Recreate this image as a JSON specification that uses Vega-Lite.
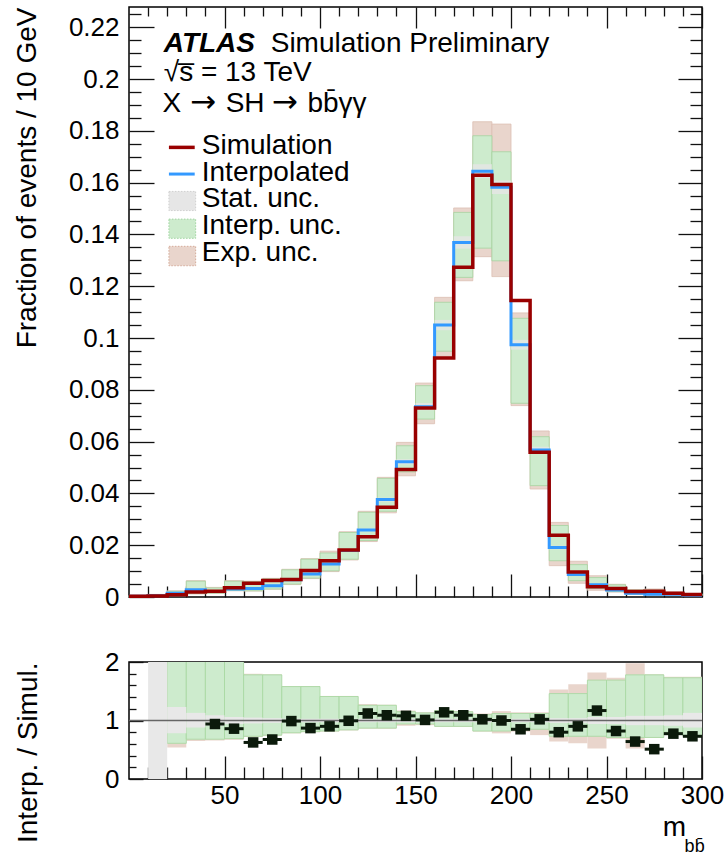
{
  "$schema": "https://vega.github.io/schema/vega-lite/v6.json",
  "background": "white",
  "padding": {"left": 12, "top": 5, "right": 5, "bottom": 5},
  "config": {
    "font": "Liberation Sans",
    "view": {"stroke": "black", "strokeWidth": 1.5},
    "axis": {"grid": false, "domain": false, "tickColor": "#111", "tickWidth": 1.3, "labelFont": "Liberation Sans", "labelFontSize": 26, "labelColor": "black", "labelFlush": false, "labelOverlap": false, "titleFont": "Liberation Sans", "titleFontSize": 28, "titleFontWeight": "normal", "titleColor": "black", "zindex": 1}
  },
  "datasets": {
    "h": [
      {"lo":0,"hi":10,"sim":0.0003,"interp":0.0003,"i_lo":0.0001,"i_hi":0.0005,"e_lo":0.0001,"e_hi":0.0006,"s_lo":0.0002,"s_hi":0.0004},
      {"lo":10,"hi":20,"sim":0.0004,"interp":0.0005,"i_lo":0.0002,"i_hi":0.0009,"e_lo":0.0002,"e_hi":0.0010,"s_lo":0.0004,"s_hi":0.0006},
      {"lo":20,"hi":30,"sim":0.0009,"interp":0.0014,"i_lo":0.0006,"i_hi":0.0022,"e_lo":0.0005,"e_hi":0.0024,"s_lo":0.0012,"s_hi":0.0016},
      {"lo":30,"hi":40,"sim":0.0019,"interp":0.0028,"i_lo":0.0013,"i_hi":0.0061,"e_lo":0.0012,"e_hi":0.0063,"s_lo":0.0025,"s_hi":0.0031},
      {"lo":40,"hi":50,"sim":0.0022,"interp":0.0021,"i_lo":0.0015,"i_hi":0.0035,"e_lo":0.0014,"e_hi":0.0037,"s_lo":0.0019,"s_hi":0.0023},
      {"lo":50,"hi":60,"sim":0.0036,"interp":0.0031,"i_lo":0.0025,"i_hi":0.0061,"e_lo":0.0024,"e_hi":0.0063,"s_lo":0.0029,"s_hi":0.0033},
      {"lo":60,"hi":70,"sim":0.0053,"interp":0.0033,"i_lo":0.0024,"i_hi":0.0059,"e_lo":0.0023,"e_hi":0.0061,"s_lo":0.0031,"s_hi":0.0035},
      {"lo":70,"hi":80,"sim":0.0064,"interp":0.0043,"i_lo":0.0031,"i_hi":0.0070,"e_lo":0.0030,"e_hi":0.0072,"s_lo":0.0041,"s_hi":0.0045},
      {"lo":80,"hi":90,"sim":0.0068,"interp":0.0067,"i_lo":0.0050,"i_hi":0.0105,"e_lo":0.0048,"e_hi":0.0107,"s_lo":0.0065,"s_hi":0.0069},
      {"lo":90,"hi":100,"sim":0.0102,"interp":0.0089,"i_lo":0.0073,"i_hi":0.0146,"e_lo":0.0071,"e_hi":0.0148,"s_lo":0.0087,"s_hi":0.0091},
      {"lo":100,"hi":110,"sim":0.0140,"interp":0.0127,"i_lo":0.0101,"i_hi":0.0170,"e_lo":0.0098,"e_hi":0.0177,"s_lo":0.0124,"s_hi":0.0130},
      {"lo":110,"hi":120,"sim":0.0181,"interp":0.0180,"i_lo":0.0146,"i_hi":0.0249,"e_lo":0.0143,"e_hi":0.0252,"s_lo":0.0176,"s_hi":0.0184},
      {"lo":120,"hi":130,"sim":0.0233,"interp":0.0259,"i_lo":0.0218,"i_hi":0.0327,"e_lo":0.0214,"e_hi":0.0331,"s_lo":0.0254,"s_hi":0.0264},
      {"lo":130,"hi":140,"sim":0.0347,"interp":0.0376,"i_lo":0.0331,"i_hi":0.0458,"e_lo":0.0325,"e_hi":0.0462,"s_lo":0.0369,"s_hi":0.0383},
      {"lo":140,"hi":150,"sim":0.0492,"interp":0.0522,"i_lo":0.0483,"i_hi":0.0584,"e_lo":0.0468,"e_hi":0.0597,"s_lo":0.0512,"s_hi":0.0532},
      {"lo":150,"hi":160,"sim":0.0730,"interp":0.0735,"i_lo":0.0687,"i_hi":0.0816,"e_lo":0.0669,"e_hi":0.0826,"s_lo":0.0721,"s_hi":0.0749},
      {"lo":160,"hi":170,"sim":0.0923,"interp":0.1050,"i_lo":0.0949,"i_hi":0.1138,"e_lo":0.0929,"e_hi":0.1157,"s_lo":0.1030,"s_hi":0.1070},
      {"lo":170,"hi":180,"sim":0.1273,"interp":0.1369,"i_lo":0.1234,"i_hi":0.1485,"e_lo":0.1221,"e_hi":0.1502,"s_lo":0.1345,"s_hi":0.1393},
      {"lo":180,"hi":190,"sim":0.1628,"interp":0.1644,"i_lo":0.1347,"i_hi":0.1781,"e_lo":0.1314,"e_hi":0.1835,"s_lo":0.1617,"s_hi":0.1671},
      {"lo":190,"hi":200,"sim":0.1593,"interp":0.1582,"i_lo":0.1298,"i_hi":0.1719,"e_lo":0.1237,"e_hi":0.1826,"s_lo":0.1556,"s_hi":0.1608},
      {"lo":200,"hi":210,"sim":0.1145,"interp":0.0974,"i_lo":0.0748,"i_hi":0.1076,"e_lo":0.0739,"e_hi":0.1097,"s_lo":0.0955,"s_hi":0.0993},
      {"lo":210,"hi":220,"sim":0.0559,"interp":0.0568,"i_lo":0.0430,"i_hi":0.0619,"e_lo":0.0417,"e_hi":0.0641,"s_lo":0.0556,"s_hi":0.0580},
      {"lo":220,"hi":230,"sim":0.0238,"interp":0.0191,"i_lo":0.0140,"i_hi":0.0276,"e_lo":0.0121,"e_hi":0.0288,"s_lo":0.0184,"s_hi":0.0198},
      {"lo":230,"hi":240,"sim":0.0097,"interp":0.0087,"i_lo":0.0063,"i_hi":0.0125,"e_lo":0.0053,"e_hi":0.0138,"s_lo":0.0083,"s_hi":0.0091},
      {"lo":240,"hi":250,"sim":0.0040,"interp":0.0047,"i_lo":0.0033,"i_hi":0.0075,"e_lo":0.0026,"e_hi":0.0082,"s_lo":0.0044,"s_hi":0.0050},
      {"lo":250,"hi":260,"sim":0.0033,"interp":0.0027,"i_lo":0.0021,"i_hi":0.0047,"e_lo":0.0019,"e_hi":0.0049,"s_lo":0.0025,"s_hi":0.0029},
      {"lo":260,"hi":270,"sim":0.0021,"interp":0.0014,"i_lo":0.0012,"i_hi":0.0027,"e_lo":0.0010,"e_hi":0.0028,"s_lo":0.0013,"s_hi":0.0015},
      {"lo":270,"hi":280,"sim":0.0022,"interp":0.0011,"i_lo":0.0009,"i_hi":0.0027,"e_lo":0.0008,"e_hi":0.0031,"s_lo":0.0010,"s_hi":0.0012},
      {"lo":280,"hi":290,"sim":0.0014,"interp":0.0011,"i_lo":0.0009,"i_hi":0.0018,"e_lo":0.0008,"e_hi":0.0019,"s_lo":0.0010,"s_hi":0.0012},
      {"lo":290,"hi":300,"sim":0.0010,"interp":0.0007,"i_lo":0.0006,"i_hi":0.0012,"e_lo":0.0005,"e_hi":0.0013,"s_lo":0.0006,"s_hi":0.0008}
    ],
    "r": [
      {"lo":10,"hi":20,"m":15,"ratio":null,"i_lo":null,"i_hi":null,"e_lo":null,"e_hi":null,"s_lo":-1,"s_hi":3},
      {"lo":20,"hi":30,"m":25,"ratio":null,"i_lo":0.61,"i_hi":3,"e_lo":0.54,"e_hi":3,"s_lo":0.78,"s_hi":1.23},
      {"lo":30,"hi":40,"m":35,"ratio":null,"i_lo":0.68,"i_hi":3,"e_lo":0.65,"e_hi":3,"s_lo":0.88,"s_hi":1.13},
      {"lo":40,"hi":50,"m":45,"ratio":0.94,"i_lo":0.68,"i_hi":3,"e_lo":0.66,"e_hi":3,"s_lo":0.91,"s_hi":1.09},
      {"lo":50,"hi":60,"m":55,"ratio":0.86,"i_lo":0.69,"i_hi":3,"e_lo":0.67,"e_hi":3,"s_lo":0.94,"s_hi":1.06},
      {"lo":60,"hi":70,"m":65,"ratio":0.625,"i_lo":0.73,"i_hi":1.78,"e_lo":0.72,"e_hi":1.80,"s_lo":0.95,"s_hi":1.05},
      {"lo":70,"hi":80,"m":75,"ratio":0.675,"i_lo":0.75,"i_hi":1.78,"e_lo":0.74,"e_hi":1.79,"s_lo":0.96,"s_hi":1.04},
      {"lo":80,"hi":90,"m":85,"ratio":0.99,"i_lo":0.79,"i_hi":1.58,"e_lo":0.78,"e_hi":1.59,"s_lo":0.97,"s_hi":1.03},
      {"lo":90,"hi":100,"m":95,"ratio":0.87,"i_lo":0.81,"i_hi":1.58,"e_lo":0.80,"e_hi":1.59,"s_lo":0.97,"s_hi":1.03},
      {"lo":100,"hi":110,"m":105,"ratio":0.90,"i_lo":0.82,"i_hi":1.41,"e_lo":0.81,"e_hi":1.42,"s_lo":0.97,"s_hi":1.03},
      {"lo":110,"hi":120,"m":115,"ratio":0.995,"i_lo":0.84,"i_hi":1.41,"e_lo":0.83,"e_hi":1.42,"s_lo":0.97,"s_hi":1.03},
      {"lo":120,"hi":130,"m":125,"ratio":1.12,"i_lo":0.87,"i_hi":1.26,"e_lo":0.86,"e_hi":1.28,"s_lo":0.97,"s_hi":1.03},
      {"lo":130,"hi":140,"m":135,"ratio":1.09,"i_lo":0.87,"i_hi":1.26,"e_lo":0.86,"e_hi":1.27,"s_lo":0.97,"s_hi":1.03},
      {"lo":140,"hi":150,"m":145,"ratio":1.08,"i_lo":0.94,"i_hi":1.15,"e_lo":0.91,"e_hi":1.17,"s_lo":0.97,"s_hi":1.03},
      {"lo":150,"hi":160,"m":155,"ratio":1.01,"i_lo":0.94,"i_hi":1.13,"e_lo":0.92,"e_hi":1.14,"s_lo":0.97,"s_hi":1.03},
      {"lo":160,"hi":170,"m":165,"ratio":1.14,"i_lo":0.90,"i_hi":1.17,"e_lo":0.89,"e_hi":1.18,"s_lo":0.97,"s_hi":1.03},
      {"lo":170,"hi":180,"m":175,"ratio":1.09,"i_lo":0.90,"i_hi":1.15,"e_lo":0.89,"e_hi":1.16,"s_lo":0.97,"s_hi":1.03},
      {"lo":180,"hi":190,"m":185,"ratio":1.02,"i_lo":0.82,"i_hi":1.10,"e_lo":0.81,"e_hi":1.12,"s_lo":0.97,"s_hi":1.03},
      {"lo":190,"hi":200,"m":195,"ratio":1.00,"i_lo":0.82,"i_hi":1.12,"e_lo":0.78,"e_hi":1.16,"s_lo":0.97,"s_hi":1.03},
      {"lo":200,"hi":210,"m":205,"ratio":0.85,"i_lo":0.84,"i_hi":1.12,"e_lo":0.81,"e_hi":1.14,"s_lo":0.97,"s_hi":1.03},
      {"lo":210,"hi":220,"m":215,"ratio":1.02,"i_lo":0.85,"i_hi":1.12,"e_lo":0.75,"e_hi":1.14,"s_lo":0.97,"s_hi":1.03},
      {"lo":220,"hi":230,"m":225,"ratio":0.80,"i_lo":0.73,"i_hi":1.46,"e_lo":0.64,"e_hi":1.53,"s_lo":0.96,"s_hi":1.04},
      {"lo":230,"hi":240,"m":235,"ratio":0.90,"i_lo":0.73,"i_hi":1.46,"e_lo":0.61,"e_hi":1.62,"s_lo":0.96,"s_hi":1.04},
      {"lo":240,"hi":250,"m":245,"ratio":1.17,"i_lo":0.73,"i_hi":1.69,"e_lo":0.52,"e_hi":1.82,"s_lo":0.94,"s_hi":1.06},
      {"lo":250,"hi":260,"m":255,"ratio":0.82,"i_lo":0.71,"i_hi":1.69,"e_lo":0.69,"e_hi":1.73,"s_lo":0.94,"s_hi":1.06},
      {"lo":260,"hi":270,"m":265,"ratio":0.64,"i_lo":0.71,"i_hi":1.78,"e_lo":0.52,"e_hi":1.98,"s_lo":0.92,"s_hi":1.08},
      {"lo":270,"hi":280,"m":275,"ratio":0.51,"i_lo":0.71,"i_hi":1.78,"e_lo":0.70,"e_hi":1.79,"s_lo":0.92,"s_hi":1.08},
      {"lo":280,"hi":290,"m":285,"ratio":0.775,"i_lo":0.80,"i_hi":1.73,"e_lo":0.78,"e_hi":1.75,"s_lo":0.91,"s_hi":1.09},
      {"lo":290,"hi":300,"m":295,"ratio":0.73,"i_lo":0.73,"i_hi":1.73,"e_lo":0.72,"e_hi":1.75,"s_lo":0.88,"s_hi":1.13}
    ]
  },
  "spacing": 37,
  "vconcat": [
    {
      "width": 573,
      "height": 590,
      "data": {"name": "h"},
      "resolve": {"axis": {"x": "independent", "y": "independent"}},
      "layer": [
        {
          "mark": {"type": "rect", "fill": "#e9d5cc", "stroke": "#dcbfb3", "strokeWidth": 0.8},
          "encoding": {
            "x": {"field": "lo", "type": "quantitative", "scale": {"domain": [0, 300], "nice": false, "zero": false},
                  "axis": {"orient": "bottom", "values": [50, 100, 150, 200, 250, 300], "tickSize": -23, "labels": false, "title": null}},
            "x2": {"field": "hi"},
            "y": {"field": "e_lo", "type": "quantitative", "scale": {"domain": [0, 0.2278], "nice": false},
                  "axis": {"orient": "left", "values": [0, 0.02, 0.04, 0.06, 0.08, 0.1, 0.12, 0.14, 0.16, 0.18, 0.2, 0.22], "tickSize": -25, "format": ".2~f", "labelPadding": 35, "title": "Fraction of events / 10 GeV", "titleAnchor": "end", "titlePadding": 27}},
            "y2": {"field": "e_hi"}
          }
        },
        {
          "mark": {"type": "rect", "fill": "#cdebcd", "stroke": "#a6d3a0", "strokeWidth": 0.8},
          "encoding": {
            "x": {"field": "lo", "type": "quantitative", "scale": {"domain": [0, 300], "nice": false, "zero": false},
                  "axis": {"orient": "bottom", "values": [10, 20, 30, 40, 60, 70, 80, 90, 110, 120, 130, 140, 160, 170, 180, 190, 210, 220, 230, 240, 260, 270, 280, 290], "tickSize": -11, "labels": false, "title": null}},
            "x2": {"field": "hi"},
            "y": {"field": "i_lo", "type": "quantitative", "scale": {"domain": [0, 0.2278], "nice": false},
                  "axis": {"orient": "left", "values": [0.005, 0.01, 0.015, 0.025, 0.03, 0.035, 0.045, 0.05, 0.055, 0.065, 0.07, 0.075, 0.085, 0.09, 0.095, 0.105, 0.11, 0.115, 0.125, 0.13, 0.135, 0.145, 0.15, 0.155, 0.165, 0.17, 0.175, 0.185, 0.19, 0.195, 0.205, 0.21, 0.215, 0.225], "tickSize": -12, "labels": false, "title": null}},
            "y2": {"field": "i_hi"}
          }
        },
        {
          "mark": {"type": "rect", "fill": "#e6e6e6", "opacity": 0.8},
          "encoding": {
            "x": {"field": "lo", "type": "quantitative", "scale": {"domain": [0, 300], "nice": false, "zero": false},
                  "axis": {"orient": "top", "values": [50, 100, 150, 200, 250, 300], "tickSize": -21, "labels": false, "title": null}},
            "x2": {"field": "hi"},
            "y": {"field": "s_lo", "type": "quantitative", "scale": {"domain": [0, 0.2278], "nice": false},
                  "axis": {"orient": "right", "values": [0.02, 0.04, 0.06, 0.08, 0.1, 0.12, 0.14, 0.16, 0.18, 0.2, 0.22], "tickSize": -24, "labels": false, "title": null}},
            "y2": {"field": "s_hi"}
          }
        },
        {
          "transform": [{"fold": ["lo", "hi"], "as": ["edge", "xe"]}],
          "mark": {"type": "line", "color": "#3399ff", "strokeWidth": 3},
          "encoding": {
            "x": {"field": "xe", "type": "quantitative", "scale": {"domain": [0, 300], "nice": false, "zero": false},
                  "axis": {"orient": "top", "values": [10, 20, 30, 40, 60, 70, 80, 90, 110, 120, 130, 140, 160, 170, 180, 190, 210, 220, 230, 240, 260, 270, 280, 290], "tickSize": -9, "labels": false, "title": null}},
            "y": {"field": "interp", "type": "quantitative", "scale": {"domain": [0, 0.2278], "nice": false},
                  "axis": {"orient": "right", "values": [0.005, 0.01, 0.015, 0.025, 0.03, 0.035, 0.045, 0.05, 0.055, 0.065, 0.07, 0.075, 0.085, 0.09, 0.095, 0.105, 0.11, 0.115, 0.125, 0.13, 0.135, 0.145, 0.15, 0.155, 0.165, 0.17, 0.175, 0.185, 0.19, 0.195, 0.205, 0.21, 0.215, 0.225], "tickSize": -12, "labels": false, "title": null}},
            "order": {"value": null}
          }
        },
        {
          "transform": [{"fold": ["lo", "hi"], "as": ["edge", "xe"]}],
          "mark": {"type": "line", "color": "#990000", "strokeWidth": 3.5},
          "encoding": {
            "x": {"field": "xe", "type": "quantitative", "scale": {"domain": [0, 300], "nice": false, "zero": false}, "axis": null},
            "y": {"field": "sim", "type": "quantitative", "scale": {"domain": [0, 0.2278], "nice": false}, "axis": null},
            "order": {"value": null}
          }
        },
        {
          "data": {"values": [{}]},
          "mark": {"type": "text", "text": "ATLAS", "fontSize": 28, "fontWeight": "bold", "fontStyle": "italic", "align": "left", "baseline": "alphabetic", "color": "black"},
          "encoding": {"x": {"datum": 18.2, "axis": null}, "y": {"datum": 0.2103, "axis": null}}
        },
        {
          "data": {"values": [{}]},
          "mark": {"type": "text", "text": "Simulation Preliminary", "fontSize": 28, "align": "left", "baseline": "alphabetic", "color": "black"},
          "encoding": {"x": {"datum": 74.2, "axis": null}, "y": {"datum": 0.2103, "axis": null}}
        },
        {
          "data": {"values": [{}]},
          "mark": {"type": "text", "text": "√s̅ = 13 TeV", "fontSize": 28, "align": "left", "baseline": "alphabetic", "color": "black"},
          "encoding": {"x": {"datum": 18.2, "axis": null}, "y": {"datum": 0.1993, "axis": null}}
        },
        {
          "data": {"values": [{}]},
          "mark": {"type": "text", "text": "X", "fontSize": 28, "align": "left", "baseline": "alphabetic", "color": "black"},
          "encoding": {"x": {"datum": 17.5, "axis": null}, "y": {"datum": 0.1871, "axis": null}}
        },
        {
          "data": {"values": [{}]},
          "mark": {"type": "text", "text": "→", "font": "DejaVu Sans", "fontSize": 31, "align": "left", "baseline": "alphabetic", "color": "black"},
          "encoding": {"x": {"datum": 32.0, "axis": null}, "y": {"datum": 0.1871, "axis": null}}
        },
        {
          "data": {"values": [{}]},
          "mark": {"type": "text", "text": "SH", "fontSize": 28, "align": "left", "baseline": "alphabetic", "color": "black"},
          "encoding": {"x": {"datum": 50.6, "axis": null}, "y": {"datum": 0.1871, "axis": null}}
        },
        {
          "data": {"values": [{}]},
          "mark": {"type": "text", "text": "→", "font": "DejaVu Sans", "fontSize": 31, "align": "left", "baseline": "alphabetic", "color": "black"},
          "encoding": {"x": {"datum": 74.8, "axis": null}, "y": {"datum": 0.1871, "axis": null}}
        },
        {
          "data": {"values": [{}]},
          "mark": {"type": "text", "text": "bb̄γγ", "fontSize": 28, "align": "left", "baseline": "alphabetic", "color": "black"},
          "encoding": {"x": {"datum": 93.4, "axis": null}, "y": {"datum": 0.1871, "axis": null}}
        },
        {
          "data": {"values": [{}]},
          "mark": {"type": "rule", "color": "#990000", "strokeWidth": 3.5},
          "encoding": {"x": {"datum": 20.9, "axis": null}, "x2": {"datum": 34.4}, "y": {"datum": 0.1736, "axis": null}}
        },
        {
          "data": {"values": [{}]},
          "mark": {"type": "rule", "color": "#3399ff", "strokeWidth": 3},
          "encoding": {"x": {"datum": 20.9, "axis": null}, "x2": {"datum": 34.4}, "y": {"datum": 0.1633, "axis": null}}
        },
        {
          "data": {"values": [{}]},
          "mark": {"type": "rect", "fill": "#e6e6e6", "stroke": "#cfcfcf", "strokeWidth": 1, "strokeDash": [1.5, 1.5]},
          "encoding": {"x": {"datum": 20.9, "axis": null}, "x2": {"datum": 34.9}, "y": {"datum": 0.1492, "axis": null}, "y2": {"datum": 0.1566}}
        },
        {
          "data": {"values": [{}]},
          "mark": {"type": "rect", "fill": "#cdebcd", "stroke": "#9fd39f", "strokeWidth": 1, "strokeDash": [1.5, 1.5]},
          "encoding": {"x": {"datum": 20.9, "axis": null}, "x2": {"datum": 34.9}, "y": {"datum": 0.1385, "axis": null}, "y2": {"datum": 0.1459}}
        },
        {
          "data": {"values": [{}]},
          "mark": {"type": "rect", "fill": "#e9d5cc", "stroke": "#d4aa98", "strokeWidth": 1, "strokeDash": [1.5, 1.5]},
          "encoding": {"x": {"datum": 20.9, "axis": null}, "x2": {"datum": 34.9}, "y": {"datum": 0.1279, "axis": null}, "y2": {"datum": 0.1354}}
        },
        {
          "data": {"values": [{}]},
          "mark": {"type": "text", "text": "Simulation", "fontSize": 28, "align": "left", "baseline": "alphabetic", "color": "black"},
          "encoding": {"x": {"datum": 38.1, "axis": null}, "y": {"datum": 0.1710, "axis": null}}
        },
        {
          "data": {"values": [{}]},
          "mark": {"type": "text", "text": "Interpolated", "fontSize": 28, "align": "left", "baseline": "alphabetic", "color": "black"},
          "encoding": {"x": {"datum": 38.1, "axis": null}, "y": {"datum": 0.1608, "axis": null}}
        },
        {
          "data": {"values": [{}]},
          "mark": {"type": "text", "text": "Stat. unc.", "fontSize": 28, "align": "left", "baseline": "alphabetic", "color": "black"},
          "encoding": {"x": {"datum": 38.1, "axis": null}, "y": {"datum": 0.1505, "axis": null}}
        },
        {
          "data": {"values": [{}]},
          "mark": {"type": "text", "text": "Interp. unc.", "fontSize": 28, "align": "left", "baseline": "alphabetic", "color": "black"},
          "encoding": {"x": {"datum": 38.1, "axis": null}, "y": {"datum": 0.1402, "axis": null}}
        },
        {
          "data": {"values": [{}]},
          "mark": {"type": "text", "text": "Exp. unc.", "fontSize": 28, "align": "left", "baseline": "alphabetic", "color": "black"},
          "encoding": {"x": {"datum": 38.1, "axis": null}, "y": {"datum": 0.1296, "axis": null}}
        }
      ]
    },
    {
      "width": 573,
      "height": 117,
      "data": {"name": "r"},
      "resolve": {"axis": {"x": "independent", "y": "independent"}},
      "layer": [
        {
          "mark": {"type": "rect", "fill": "#e9d5cc", "clip": true},
          "encoding": {
            "x": {"field": "lo", "type": "quantitative", "scale": {"domain": [0, 300], "nice": false, "zero": false},
                  "axis": {"orient": "bottom", "values": [50, 100, 150, 200, 250, 300], "tickSize": -23, "labelPadding": 26, "title": null}},
            "x2": {"field": "hi"},
            "y": {"field": "e_lo", "type": "quantitative", "scale": {"domain": [0, 2], "nice": false},
                  "axis": {"orient": "left", "values": [0, 0.5, 1, 1.5, 2], "labelExpr": "datum.value == 0 ? '0' : datum.value == 1 ? '1' : datum.value == 2 ? '2' : ''", "tickSize": -14, "tickOpacity": {"condition": {"test": "datum.value == 0.5 || datum.value == 1.5", "value": 0}, "value": 1}, "labelPadding": 24, "labelOverlap": false, "labelBound": false, "title": "Interp. / Simul.", "titleAnchor": "end", "titlePadding": 62}},
            "y2": {"field": "e_hi"}
          }
        },
        {
          "mark": {"type": "rect", "fill": "#cdebcd", "stroke": "#a6d8a0", "strokeWidth": 0.8, "clip": true},
          "encoding": {
            "x": {"field": "lo", "type": "quantitative", "scale": {"domain": [0, 300], "nice": false, "zero": false},
                  "axis": {"orient": "bottom", "values": [10, 20, 30, 40, 60, 70, 80, 90, 110, 120, 130, 140, 160, 170, 180, 190, 210, 220, 230, 240, 260, 270, 280, 290], "tickSize": -12, "labels": false, "title": null}},
            "x2": {"field": "hi"},
            "y": {"field": "i_lo", "type": "quantitative", "scale": {"domain": [0, 2], "nice": false},
                  "axis": {"orient": "left", "values": [0.2, 0.4, 0.6, 0.8, 1.2, 1.4, 1.6, 1.8], "tickSize": -7, "labels": false, "title": null}},
            "y2": {"field": "i_hi"}
          }
        },
        {
          "mark": {"type": "rect", "fill": "#e8e8e8", "clip": true},
          "encoding": {
            "x": {"field": "lo", "type": "quantitative", "scale": {"domain": [0, 300], "nice": false, "zero": false}, "axis": null},
            "x2": {"field": "hi"},
            "y": {"field": "s_lo", "type": "quantitative", "scale": {"domain": [0, 2], "nice": false}, "axis": null},
            "y2": {"field": "s_hi"}
          }
        },
        {
          "data": {"values": [{}]},
          "mark": {"type": "rule", "color": "#666666", "strokeWidth": 1.5},
          "encoding": {"y": {"datum": 1, "axis": null}}
        },
        {
          "mark": {"type": "rule", "color": "#0b1a0b", "strokeWidth": 3},
          "encoding": {
            "x": {"field": "lo", "type": "quantitative", "scale": {"domain": [0, 300], "nice": false, "zero": false}, "axis": null},
            "x2": {"field": "hi"},
            "y": {"field": "ratio", "type": "quantitative", "scale": {"domain": [0, 2], "nice": false}, "axis": null}
          }
        },
        {
          "mark": {"type": "square", "filled": true, "size": 110, "color": "#0b1a0b", "opacity": 1},
          "encoding": {
            "x": {"field": "m", "type": "quantitative", "scale": {"domain": [0, 300], "nice": false, "zero": false}, "axis": null},
            "y": {"field": "ratio", "type": "quantitative", "scale": {"domain": [0, 2], "nice": false}, "axis": null}
          }
        },
        {
          "data": {"values": [{}]},
          "mark": {"type": "text", "text": "m", "fontSize": 28, "align": "right", "baseline": "alphabetic", "color": "black"},
          "encoding": {"x": {"datum": 291.6, "axis": null}, "y": {"datum": -0.97, "axis": null}}
        },
        {
          "data": {"values": [{}]},
          "mark": {"type": "text", "text": "bb̄", "fontSize": 18, "align": "left", "baseline": "alphabetic", "color": "black"},
          "encoding": {"x": {"datum": 290.9, "axis": null}, "y": {"datum": -1.256, "axis": null}}
        }
      ]
    }
  ]
}
